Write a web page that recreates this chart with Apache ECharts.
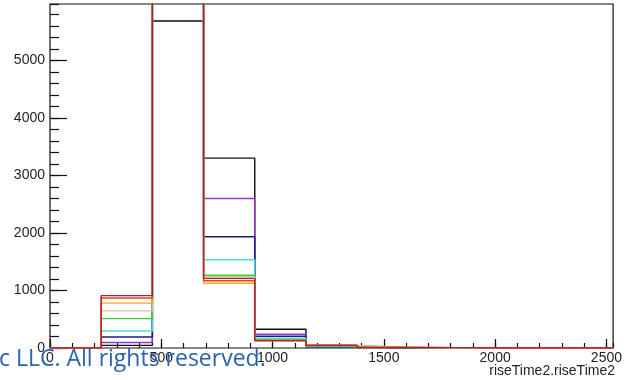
<!DOCTYPE html>
<html>
<head>
<meta charset="utf-8">
<script src="https://cdn.jsdelivr.net/npm/echarts@6/dist/echarts.min.js"></script>
<style>html,body{margin:0;padding:0;background:#fff}#c{width:625px;height:380px}</style>
</head>
<body>
<div id="c"></div>
<script>
// Bin edges (riseTime2 units) and counts per bin for each overlaid histogram
var binEdges = [0, 230, 460, 690, 920, 1150, 1380, 1610, 1840, 2070, 2300, 2530];
var seriesNames = ['h0', 'h1', 'h2', 'h3', 'h4', 'h5', 'h6', 'h7', 'h8'];
var blackCounts  = [0, 45,  5685, 3300, 325, 20, 5,  3, 0, 0, 0];
var purpleCounts = [0, 95,  6300, 2600, 240, 25, 6,  3, 0, 0, 0];
var navyCounts   = [0, 190, 6600, 1935, 205, 30, 7,  4, 0, 0, 0];
var cyanCounts   = [0, 295, 6900, 1535, 170, 33, 8,  4, 0, 0, 0];
var greenCounts  = [0, 510, 7100, 1265, 150, 38, 9,  5, 0, 0, 0];
var tanCounts    = [0, 645, 7300, 1240, 140, 42, 10, 5, 0, 0, 0];
var orangeCounts = [0, 780, 7500, 1125, 125, 50, 12, 5, 0, 0, 0];
var redCounts    = [0, 870, 7700, 1170, 128, 48, 10, 6, 0, 0, 0];
var maroonCounts = [0, 910, 7900, 1210, 130, 45, 9,  6, 0, 0, 0];
var xTicks = [0, 500, 1000, 1500, 2000, 2500];
var yTicks = [0, 1000, 2000, 3000, 4000, 5000];
var xTitle = 'riseTime2.riseTime2';
var watermark = 'c LLC. All rights reserved.';

var allCounts = [blackCounts, purpleCounts, navyCounts, cyanCounts, greenCounts, tanCounts, orangeCounts, redCounts, maroonCounts];
var colors = ['#111111', '#9b30d9', '#1c1c7a', '#40e0e8', '#3fcf3f', '#d8c29a', '#f5a623', '#f04010', '#a3243a'];

function stepPoints(counts) {
  var pts = [[binEdges[0], 0]];
  for (var i = 0; i < counts.length; i++) {
    pts.push([binEdges[i], counts[i]]);
    pts.push([binEdges[i + 1], counts[i]]);
  }
  pts.push([binEdges[binEdges.length - 1], 0]);
  return pts;
}

var series = allCounts.map(function (c, i) {
  return {
    name: seriesNames[i], type: 'line', data: stepPoints(c), symbol: 'none',
    clip: true, animation: false, xAxisIndex: 0, yAxisIndex: 0,
    lineStyle: { color: colors[i], width: 1.4 }, z: 3 + i
  };
});

var chart = echarts.init(document.getElementById('c'), null, { renderer: 'canvas' });
var fontFam = 'Liberation Sans, Arial, sans-serif';
chart.setOption({
  animation: false,
  grid: { left: 50, right: 10, top: 4, bottom: 32, show: true, borderColor: '#111', borderWidth: 1.2, backgroundColor: '#fff' },
  xAxis: [
    { type: 'value', min: binEdges[0], max: binEdges[binEdges.length - 1], interval: 500, position: 'bottom',
      axisLine: { show: false }, splitLine: { show: false },
      axisTick: { inside: true, length: 9, lineStyle: { color: '#111', width: 1.2 } },
      axisLabel: { margin: 3, fontSize: 14, color: '#222', fontFamily: fontFam, showMaxLabel: false,
        formatter: function (v) { return xTicks.indexOf(v) >= 0 ? String(v) : ''; } } },
    { type: 'value', min: binEdges[0], max: binEdges[binEdges.length - 1], interval: 100, position: 'bottom',
      axisLine: { show: false }, splitLine: { show: false }, axisLabel: { show: false },
      axisTick: { inside: true, length: 5, lineStyle: { color: '#111', width: 1.2 } } }
  ],
  yAxis: [
    { type: 'value', min: 0, max: 5980, interval: 1000, position: 'left',
      axisLine: { show: false }, splitLine: { show: false },
      axisTick: { inside: true, length: 17, lineStyle: { color: '#111', width: 1.2 } },
      axisLabel: { margin: 5, fontSize: 14, color: '#222', fontFamily: fontFam, showMaxLabel: false,
        formatter: function (v) { return yTicks.indexOf(v) >= 0 ? String(v) : ''; } } },
    { type: 'value', min: 0, max: 5980, interval: 200, position: 'left',
      axisLine: { show: false }, splitLine: { show: false }, axisLabel: { show: false },
      axisTick: { inside: true, length: 9, lineStyle: { color: '#111', width: 1.2 } } }
  ],
  graphic: [
    { type: 'text', right: 10, top: 364, z: 100,
      style: { text: xTitle, fontSize: 14, fill: '#222', fontFamily: fontFam } },
    { type: 'text', left: -1, top: 348, z: 100,
      style: { text: watermark, fontSize: 23, fill: '#2a63ad', fontFamily: 'Open Sans, Lato, sans-serif' } }
  ],
  series: series
});
</script>
</body>
</html>
